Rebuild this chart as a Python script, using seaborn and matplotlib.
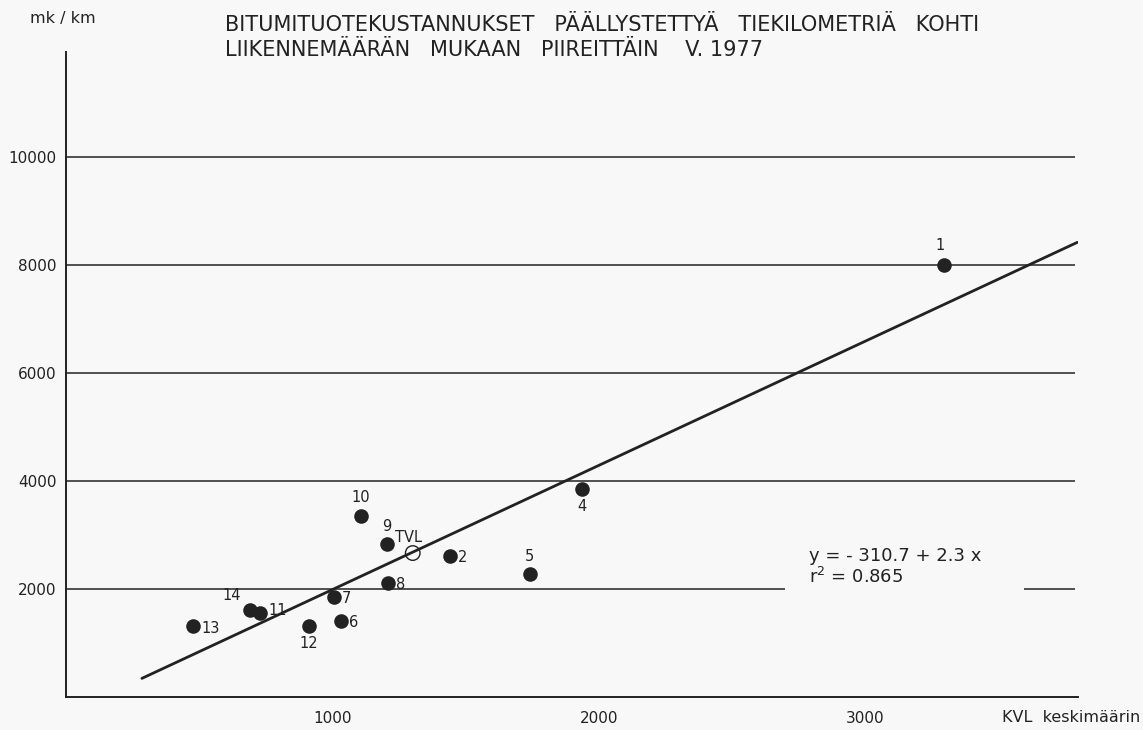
import numpy as np
import pandas as pd
import matplotlib
matplotlib.use("Agg")
import matplotlib.pyplot as plt
import seaborn as sns

# districts (piirit), KVL average vs bitumen cost mk/km, 1977
piiri = ["1", "2", "4", "5", "6", "7", "8", "9", "10", "11", "12", "13", "14"]
kvl = [3298, 1441, 1936, 1741, 1032, 1006, 1208, 1204, 1107, 728, 912, 477, 690]
cost = [8000, 2611, 3852, 2278, 1407, 1852, 2111, 2833, 3352, 1556, 1315, 1315, 1611]

# whole country (TVL)
tvl_kvl = [1302]
tvl_cost = [2667]

# fitted line y = -310.7 + 2.3 x
intercept, slope = -310.7, 2.3
fit_x = [285, 3797]

title_1 = "BITUMITUOTEKUSTANNUKSET   PÄÄLLYSTETTYÄ   TIEKILOMETRIÄ   KOHTI"
title_2 = "LIIKENNEMÄÄRÄN   MUKAAN   PIIREITTÄIN    V. 1977"

# label placement offsets (points) per district
offsets = {
    "1": (-3, 9, "center", "bottom"),
    "2": (6, -1, "left", "center"),
    "4": (0, -7, "center", "top"),
    "5": (0, 7, "center", "bottom"),
    "6": (6, -1, "left", "center"),
    "7": (6, -1, "left", "center"),
    "8": (6, -1, "left", "center"),
    "9": (0, 7, "center", "bottom"),
    "10": (0, 8, "center", "bottom"),
    "11": (6, 2, "left", "center"),
    "12": (0, -7, "center", "top"),
    "13": (6, -2, "left", "center"),
    "14": (-6, 5, "right", "bottom"),
}

df = pd.DataFrame({"piiri": piiri, "kvl": kvl, "cost": cost})
fit = pd.DataFrame({"x": fit_x, "y": [intercept + slope * v for v in fit_x]})

sns.set_style("white")
plt.rcParams["font.family"] = ["DejaVu Sans"]
bg = "#f8f8f8"
ink = "#222222"

W, H = 1143, 730
fig = plt.figure(figsize=(W / 100, H / 100), dpi=100, facecolor=bg)
ax = fig.add_axes([66 / W, 1 - 697 / H, (1078 - 66) / W, (697 - 52) / H], facecolor=bg)

ax.set_xlim(0, 3800)
ax.set_ylim(0, 11950)

# horizontal rules, the 2000 one broken for the equation
for yv in [4000, 6000, 8000, 10000]:
    ax.hlines(yv, 0, 3790, color=ink, lw=1.1, zorder=1)
ax.hlines(2000, 0, 2698, color=ink, lw=1.1, zorder=1)
ax.hlines(2000, 3598, 3790, color=ink, lw=1.1, zorder=1)

sns.lineplot(data=fit, x="x", y="y", color=ink, lw=2.0, ax=ax, zorder=2)
sns.scatterplot(data=df, x="kvl", y="cost", color=ink, s=110, edgecolor=ink,
                linewidth=0, ax=ax, zorder=3)
sns.scatterplot(x=tvl_kvl, y=tvl_cost, s=110, facecolor="none", edgecolor=ink,
                linewidth=1.0, ax=ax, zorder=3)

for p, xv, yv in zip(piiri, kvl, cost):
    dx, dy, ha, va = offsets[p]
    ax.annotate(p, (xv, yv), xytext=(dx, dy), textcoords="offset points",
                ha=ha, va=va, fontsize=10.5, color=ink)
ax.annotate("TVL", (tvl_kvl[0], tvl_cost[0]), xytext=(-3, 6),
            textcoords="offset points", ha="center", va="bottom",
            fontsize=10.5, color=ink)

ax.text(2790, 2610, "y = - 310.7 + 2.3 x", fontsize=13, color=ink,
        ha="left", va="center")
ax.text(2790, 2220, "r$^2$ = 0.865", fontsize=13, color=ink,
        ha="left", va="center")

# axes: only left and bottom, no tick marks
for side in ["top", "right"]:
    ax.spines[side].set_visible(False)
for side in ["left", "bottom"]:
    ax.spines[side].set_color(ink)
    ax.spines[side].set_linewidth(1.4)
ax.set_xticks([1000, 2000, 3000])
ax.set_xticklabels(["1000", "2000", "3000"])
ax.set_yticks([2000, 4000, 6000, 8000, 10000])
ax.set_yticklabels(["2000", "4000", "6000", "8000", "10000"])
ax.tick_params(axis="both", length=0, labelsize=11, colors=ink)
ax.tick_params(axis="y", pad=7)
ax.tick_params(axis="x", pad=10)
ax.set_xlabel("")
ax.set_ylabel("")

fig.text(1140 / W, 1 - 718 / H, "KVL  keskimäärin", fontsize=11.5, color=ink,
         ha="right", va="center")
fig.text(30 / W, 1 - 18 / H, "mk / km", fontsize=11.5, color=ink,
         ha="left", va="center")
fig.text(225 / W, 1 - 25 / H, title_1, fontsize=15, color=ink,
         ha="left", va="center")
fig.text(225 / W, 1 - 50 / H, title_2, fontsize=15, color=ink,
         ha="left", va="center")

fig.savefig("out.png", dpi=100, facecolor=bg)
